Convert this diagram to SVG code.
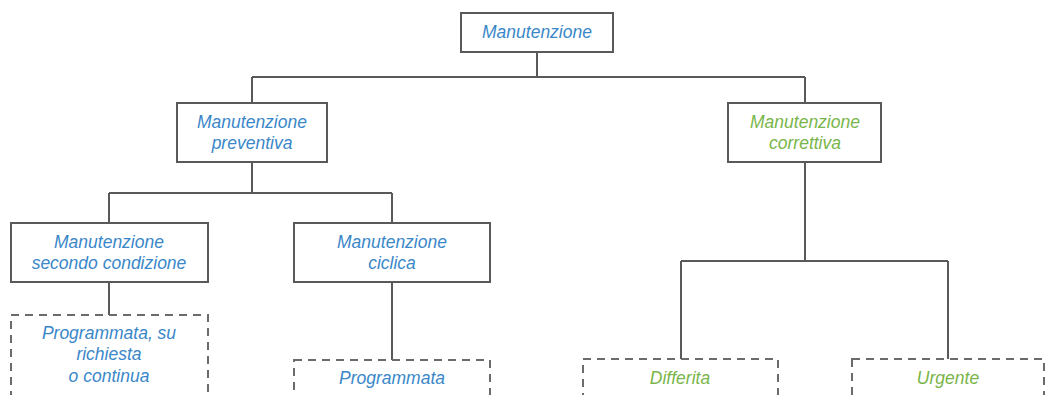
<svg xmlns="http://www.w3.org/2000/svg" width="1046" height="395" viewBox="0 0 1046 395">
<style>
.box{fill:#fff;stroke:#595959;stroke-width:2}
.dash{fill:#fff;stroke:#6b6b6b;stroke-width:2;stroke-dasharray:8 6}
.ln{fill:none;stroke:#595959;stroke-width:2}
text{font-family:"Liberation Sans",Arial,sans-serif;font-style:italic;font-size:17.5px;text-anchor:middle}
.b{fill:#3a87c9}
.g{fill:#79b54a}
</style>
<rect width="1046" height="395" fill="#fff"/>
<g id="connectors">
<path class="ln" d="M537 52V77M252 77H805M252 77V103M805 77V103"/>
<path class="ln" d="M252 162V193M109 193H392M109 193V223M392 193V223"/>
<path class="ln" d="M109 282V315M392 282V360"/>
<path class="ln" d="M805 162V261M681 261H948M681 261V359M948 261V359"/>
</g>
<g id="n-root"><rect class="box" x="461" y="13" width="152" height="39"/><text class="b" x="537" y="38">Manutenzione</text></g>
<g id="n-preventiva"><rect class="box" x="177" y="103" width="150" height="59"/><text class="b" x="252" y="128">Manutenzione</text><text class="b" x="252" y="149">preventiva</text></g>
<g id="n-correttiva"><rect class="box" x="728" y="103" width="153" height="59"/><text class="g" x="805" y="128">Manutenzione</text><text class="g" x="805" y="149">correttiva</text></g>
<g id="n-condizione"><rect class="box" x="11" y="223" width="197" height="59"/><text class="b" x="109" y="248">Manutenzione</text><text class="b" x="109" y="269">secondo condizione</text></g>
<g id="n-ciclica"><rect class="box" x="294" y="223" width="196" height="59"/><text class="b" x="392" y="248">Manutenzione</text><text class="b" x="392" y="269">ciclica</text></g>
<g id="n-programmata1"><rect class="dash" x="11" y="315" width="197" height="90"/><text class="b" x="109" y="339">Programmata, su</text><text class="b" x="109" y="360">richiesta</text><text class="b" x="109" y="382">o continua</text></g>
<g id="n-programmata2"><rect class="dash" x="294" y="360" width="196" height="50"/><text class="b" x="392" y="384">Programmata</text></g>
<g id="n-differita"><rect class="dash" x="583" y="359" width="195" height="50"/><text class="g" x="680" y="384">Differita</text></g>
<g id="n-urgente"><rect class="dash" x="852" y="359" width="192" height="50"/><text class="g" x="948" y="384">Urgente</text></g>
</svg>
